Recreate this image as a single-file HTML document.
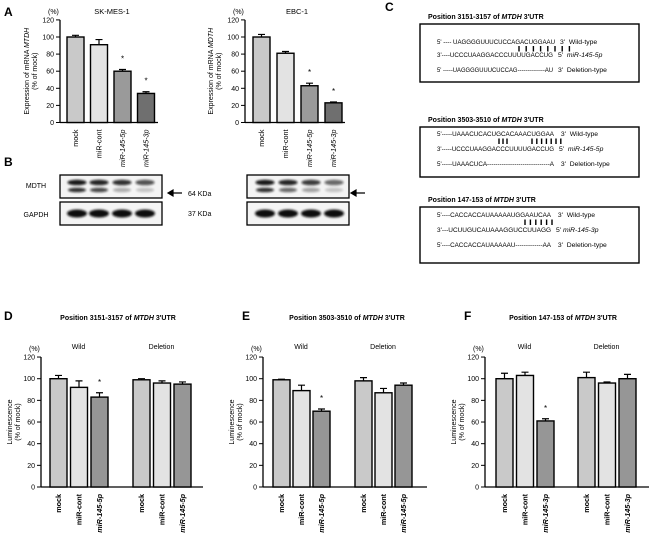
<!DOCTYPE html>
<html><head><meta charset="utf-8"><style>
html,body{margin:0;padding:0;background:#fff;}
svg{display:block;font-family:"Liberation Sans",Arial,sans-serif;}
</style></head><body>
<svg id="fig" width="650" height="535" viewBox="0 0 650 535" xmlns="http://www.w3.org/2000/svg">
<defs><filter id="blur" x="-20%" y="-50%" width="140%" height="200%"><feGaussianBlur stdDeviation="1.1"/></filter></defs>
<g font-weight="bold" font-size="12">
<text x="4" y="16">A</text>
<text x="4" y="166">B</text>
<text x="385" y="11">C</text>
<text x="4" y="320">D</text>
<text x="242" y="320">E</text>
<text x="464" y="320">F</text>
</g>
<g id="blots"></g>
<g id="seqs"></g>
<g id="charts"></g>
</svg>
<script>
// ---- chart data ----
const catsA = ["mock","miR-cont","miR-145-5p","miR-145-3p"];
const valsA1 = [100, 91, 60, 34];
const errsA1 = [2, 6, 2, 2];
const starsA1 = [false, false, true, true];
const valsA2 = [100, 81, 43, 23];
const errsA2 = [3, 2, 3, 1];
const starsA2 = [false, false, true, true];
const yTicks = [0, 20, 40, 60, 80, 100, 120];
const catsD = ["mock","miR-cont","miR-145-5p"];
const catsF = ["mock","miR-cont","miR-145-3p"];
const valsDWild = [100, 92, 83];
const errsDWild = [3, 6, 4];
const valsDDel = [99, 96, 95];
const errsDDel = [1, 2, 2];
const valsEWild = [99, 89, 70];
const errsEWild = [0.5, 5, 2];
const valsEDel = [98, 87, 94];
const errsEDel = [3, 4, 2];
const valsFWild = [100, 103, 61];
const errsFWild = [5, 3, 2];
const valsFDel = [101, 96, 100];
const errsFDel = [5, 1, 4];
const starsWild = [false, false, true];
const starsDel = [false, false, false];

const NS = "http://www.w3.org/2000/svg";
const root = document.getElementById('charts');
function mk(tag, attrs, parent, txt){
  const e = document.createElementNS(NS, tag);
  for (const k in attrs) e.setAttribute(k, attrs[k]);
  if (txt !== undefined) e.textContent = txt;
  (parent || root).appendChild(e);
  return e;
}
const colorsA = ["#c9c9c9","#e3e3e3","#9a9a9a","#6f6f6f"];
const colorsD = ["#c9c9c9","#e3e3e3","#969696"];

function axis(ax){
  const g = mk('g', {});
  
  
  const y = v => ax.y0 - v * ax.k;
  mk('line', {x1:ax.x, y1:y(0), x2:ax.x, y2:y(120), stroke:'#000','stroke-width':1.3}, g);
  mk('line', {x1:ax.x, y1:y(0), x2:ax.xEnd, y2:y(0), stroke:'#000','stroke-width':1.3}, g);
  yTicks.forEach(t => {
    mk('line', {x1:ax.x-4, y1:y(t), x2:ax.x, y2:y(t), stroke:'#000','stroke-width':1}, g);
    const tl = mk('text', {x:ax.x-6, y:y(t)+2.5, 'font-size':7, 'text-anchor':'end'}, g, String(t));
    
    
  });
  const pc = mk('text', {x:ax.x-12, y:y(120)-6, 'font-size':7}, g, '(%)');
  
  
  const cy = (y(0)+y(120))/2;
  const t1 = mk('text', {x:0, y:0, 'font-size':7, 'text-anchor':'middle', transform:`translate(${ax.titleX},${cy}) rotate(-90)`}, g);
  t1.innerHTML = ax.title1;
  
  
  const t2 = mk('text', {x:0, y:0, 'font-size':7, 'text-anchor':'middle', transform:`translate(${ax.titleX+8},${cy}) rotate(-90)`}, g, '(% of mock)');
  
  
  return y;
}
function bars(ax, y, cats, vals, errs, stars, colors, start, step, w, bold){
  vals.forEach((v, i) => {
    const x = start + i * step;
    const b = mk('rect', {x:x, y:y(v), width:w, height:y(0)-y(v), fill:colors[i], stroke:'#000','stroke-width':1.4});
    
    
    const cx = x + w/2, top = y(v + errs[i]);
    const eb = mk('path', {d:`M${cx},${y(v)} V${top} M${cx-3.5},${top} H${cx+3.5}`, stroke:'#000','stroke-width':1.2, fill:'none'});
    
    
    if (stars[i]) {
      const s = mk('text', {x:cx, y:top-8, 'font-size':8, 'text-anchor':'middle'}, root, '*');
      
      
    }
    const lab = mk('text', {x:0, y:0, 'font-size':7.2, 'text-anchor':'end', 'font-weight':bold?'bold':'normal', 'font-style':cats[i].startsWith('miR-145')?'italic':'normal', transform:`translate(${cx+2.5},${y(0)+7}) rotate(-90)`}, root, cats[i]);
    
    
  });
}
function label(x, yy, txt, size, name, extra){
  const t = mk('text', Object.assign({x:x, y:yy, 'font-size':size, 'text-anchor':'middle'}, extra||{}), root);
  t.innerHTML = txt;
  
  
}

// Panel A
const axA1 = {name:'a-skmes1', x:60, y0:122.5, k:0.855, xEnd:158, titleX:29, title1:'Expression of mRNA <tspan font-style="italic">MTDH</tspan>'};
const yA1 = axis(axA1);
bars(axA1, yA1, catsA, valsA1, errsA1, starsA1, colorsA, 67, 23.5, 17, false);
label(112, 14, 'SK-MES-1', 7.5, 'chart-title-skmes1');
const axA2 = {name:'a-ebc1', x:245, y0:122.5, k:0.855, xEnd:345, titleX:213, title1:'Expression of mRNA <tspan font-style="italic">MDTH</tspan>'};
const yA2 = axis(axA2);
bars(axA2, yA2, catsA, valsA2, errsA2, starsA2, colorsA, 253, 24, 17, false);
label(297, 14, 'EBC-1', 7.5, 'chart-title-ebc1');

// Panels D-F
function lucPanel(name, axX, xEnd, wildStart, delStart, step, cats, vw, ew, vd, ed, title, cx){
  const ax = {name:name, x:axX, y0:487, k:1.083, xEnd:xEnd, titleX:axX-29, title1:'Luminescence'};
  const y = axis(ax);
  bars(ax, y, cats, vw, ew, starsWild, colorsD, wildStart, step, 17, true);
  bars({name:name+'-del'}, y, cats, vd, ed, starsDel, colorsD, delStart, step, 17, true);
  label(wildStart + step + 8, 349, 'Wild', 7, 'group-label-wild');
  label(delStart + step + 8, 349, 'Deletion', 7, 'group-label-deletion');
  label(cx, 320, title, 7, 'chart-title-' + name, {'font-weight':'bold'});
}
lucPanel('d', 41, 203, 50, 133, 20.5, catsD, valsDWild, errsDWild, valsDDel, errsDDel, 'Position 3151-3157 of <tspan font-style="italic">MTDH</tspan> 3\'UTR', 118);
lucPanel('e', 263, 427, 273, 355, 20, catsD, valsEWild, errsEWild, valsEDel, errsEDel, 'Position 3503-3510 of <tspan font-style="italic">MTDH</tspan> 3\'UTR', 347);
lucPanel('f', 485, 649, 496, 578, 20.5, catsF, valsFWild, errsFWild, valsFDel, errsFDel, 'Position 147-153 of <tspan font-style="italic">MTDH</tspan> 3\'UTR', 563);

// ---- Blots ----
const blots = document.getElementById('blots');
const laneLeft = [77, 99, 122, 145];
const laneRight = [265, 288, 311, 334];
const upperL = [0.95, 0.9, 0.85, 0.7], lowerL = [0.85, 0.75, 0.3, 0.2];
const upperR = [0.95, 0.9, 0.8, 0.6], lowerR = [0.85, 0.6, 0.35, 0.2];
function blot(x, lanes, up, lo, name){
  const b1 = mk('rect', {x:x, y:175, width:102, height:23, fill:'#f4f4f4', stroke:'#000','stroke-width':1.3}, blots);
  
  
  const b2 = mk('rect', {x:x, y:202, width:102, height:23, fill:'#f4f4f4', stroke:'#000','stroke-width':1.3}, blots);
  
  
  lanes.forEach((c, i) => {
    mk('ellipse', {cx:c, cy:182.5, rx:9.5, ry:2.8, fill:'#111', opacity:up[i], filter:'url(#blur)'}, blots);
    mk('ellipse', {cx:c, cy:190, rx:9, ry:2.3, fill:'#111', opacity:lo[i], filter:'url(#blur)'}, blots);
    mk('ellipse', {cx:c, cy:213.5, rx:10, ry:4, fill:'#111', filter:'url(#blur)'}, blots);
  });
}
blot(60, laneLeft, upperL, lowerL, 'left');
blot(247, laneRight, upperR, lowerR, 'right');
function arrow(x){
  const a = mk('path', {d:`M${x+14},193 H${x+3} M${x},193 l5,-3 v6 z`, stroke:'#000','stroke-width':1.2, fill:'#000'}, blots);
  
  
}
arrow(168); arrow(351);
[['MDTH',188,'protein-label-mdth'],['GAPDH',217,'protein-label-gapdh']].forEach(p=>{
  const t = mk('text', {x:36, y:p[1], 'font-size':7, 'text-anchor':'middle'}, blots, p[0]);
   
});
[['64 KDa',196],['37 KDa',216]].forEach(p=>{
  const t = mk('text', {x:188, y:p[1], 'font-size':7}, blots, p[0]);
   
});

// ---- Sequences (panel C) ----
const seqs = document.getElementById('seqs');
function seqBox(top, h, title, lines, pairs){
  const t = mk('text', {x:428, y:top-5, 'font-size':7, 'font-weight':'bold'}, seqs);
  t.innerHTML = title;
   
  const r = mk('rect', {x:420, y:top, width:219, height:h, fill:'none', stroke:'#000','stroke-width':1.4}, seqs);
   
  lines.forEach(l => {
    const s = mk('text', {x:437, y:top+l[0], 'font-size':6.8, textLength:l[2], lengthAdjust:'spacingAndGlyphs'}, seqs, l[1]);
     
    const e = mk('text', {x:437+l[2]+5, y:top+l[0], 'font-size':6.8}, seqs);
    e.innerHTML = l[3];
     
  });
  pairs.forEach(p => {
    for (let i=0;i<p[1];i++) mk('line', {x1:p[0]+i*p[2], y1:top+p[3], x2:p[0]+i*p[2], y2:top+p[3]+5.5, stroke:'#000','stroke-width':1.4}, seqs);
  });
}
const UT = 'of <tspan font-style="italic">MTDH</tspan> 3\'UTR';
seqBox(24, 58, 'Position 3151-3157 '+UT, [
  [20,"5' ---- UAGGGGUUUCUCCAGACUGGAAU",118,"3'&#160;&#160;Wild-type"],
  [33,"3'----UCCCUAAGGACCCUUUUGACCUG",116,"5'&#160;&#160;<tspan font-style='italic'>miR-145-5p</tspan>"],
  [48,"5' -----UAGGGGUUUCUCCAG--------------AU",116,"3'&#160;&#160;Deletion-type"]
], [[519,8,7.2,22]]);
seqBox(127, 50, 'Position 3503-3510 '+UT, [
  [9,"5'-----UAAACUCACUGCACAAACUGGAA",117,"&#160;3'&#160;&#160;Wild-type"],
  [24,"3'-----UCCCUAAGGACCCUUUUGACCUG",117,"5'&#160;&#160;<tspan font-style='italic'>miR-145-5p</tspan>"],
  [39,"5'-----UAAACUCA------------------------------A",117,"&#160;3'&#160;&#160;Deletion-type"]
], [[499,3,4,11.5],[532,7,4.8,11.5]]);
seqBox(207, 56, 'Position 147-153 '+UT, [
  [10,"5'----CACCACCAUAAAAAUGGAAUCAA",114,"&#160;3'&#160;&#160;Wild-type"],
  [25,"3'---UCUUGUCAUAAAGGUCCUUAGG",114,"5' <tspan font-style='italic'>miR-145-3p</tspan>"],
  [40,"5'----CACCACCAUAAAAAU-------------AA",114,"&#160;3'&#160;&#160;Deletion-type"]
], [[525,6,5.4,12.5]]);
</script>
</body></html>
